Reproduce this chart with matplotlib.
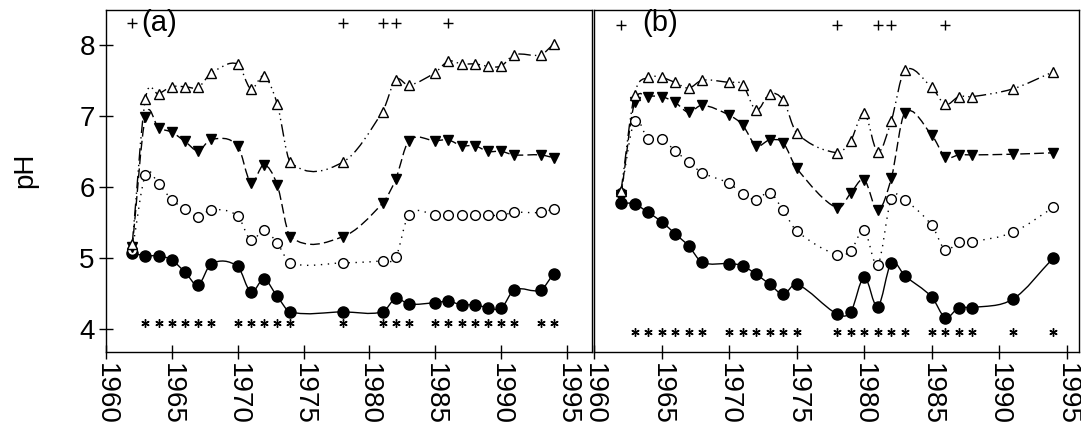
import numpy as np
import matplotlib
matplotlib.use('Agg')
import matplotlib.pyplot as plt
from matplotlib.path import Path
from matplotlib.patches import PathPatch

plt.rcParams['font.family'] = ['Liberation Sans', 'DejaVu Sans']

# panel (a)
years_a = [1962, 1963, 1964, 1965, 1966, 1967, 1968, 1970, 1971, 1972, 1973, 1974,
           1978, 1981, 1982, 1983, 1985, 1986, 1987, 1988, 1989, 1990, 1991, 1993, 1994]
ph_a_filled_circ = [5.07, 5.03, 5.03, 4.97, 4.80, 4.62, 4.92, 4.88, 4.52, 4.70, 4.46, 4.24,
                    4.24, 4.24, 4.43, 4.35, 4.37, 4.39, 4.34, 4.34, 4.30, 4.29, 4.55, 4.55, 4.78]
ph_a_open_circ = [5.11, 6.17, 6.04, 5.82, 5.69, 5.58, 5.68, 5.59, 5.25, 5.39, 5.21, 4.93,
                  4.93, 4.96, 5.01, 5.61, 5.61, 5.61, 5.61, 5.61, 5.60, 5.60, 5.64, 5.64, 5.69]
ph_a_filled_tri = [5.15, 6.99, 6.83, 6.77, 6.64, 6.51, 6.67, 6.58, 6.06, 6.31, 6.03, 5.30,
                   5.30, 5.77, 6.11, 6.65, 6.65, 6.66, 6.58, 6.58, 6.50, 6.50, 6.45, 6.45, 6.41]
ph_a_open_tri = [5.20, 7.24, 7.31, 7.41, 7.41, 7.40, 7.60, 7.73, 7.38, 7.56, 7.17, 6.35,
                 6.35, 7.06, 7.51, 7.43, 7.61, 7.77, 7.73, 7.73, 7.70, 7.70, 7.86, 7.86, 8.01]
stars_a = [1963, 1964, 1965, 1966, 1967, 1968, 1970, 1971, 1972, 1973, 1974, 1978,
           1981, 1982, 1983, 1985, 1986, 1987, 1988, 1989, 1990, 1991, 1993, 1994]
plus_a = [1962, 1978, 1981, 1982, 1986]

# panel (b)
years_b = [1962, 1963, 1964, 1965, 1966, 1967, 1968, 1970, 1971, 1972, 1973, 1974, 1975,
           1978, 1979, 1980, 1981, 1982, 1983, 1985, 1986, 1987, 1988, 1991, 1994]
ph_b_filled_circ = [5.77, 5.76, 5.64, 5.51, 5.34, 5.17, 4.94, 4.92, 4.89, 4.77, 4.63, 4.49, 4.63,
                    4.21, 4.24, 4.73, 4.31, 4.93, 4.75, 4.45, 4.16, 4.30, 4.30, 4.42, 5.00]
ph_b_open_circ = [5.92, 6.93, 6.67, 6.67, 6.51, 6.35, 6.20, 6.05, 5.90, 5.82, 5.92, 5.67, 5.38,
                  5.04, 5.10, 5.39, 4.90, 5.83, 5.81, 5.46, 5.11, 5.23, 5.23, 5.36, 5.71]
ph_b_filled_tri = [5.88, 7.19, 7.27, 7.27, 7.19, 7.05, 7.15, 7.01, 6.87, 6.58, 6.66, 6.62, 6.26,
                   5.70, 5.91, 6.10, 5.67, 6.12, 7.04, 6.73, 6.42, 6.45, 6.45, 6.46, 6.48]
ph_b_open_tri = [5.94, 7.30, 7.54, 7.54, 7.47, 7.39, 7.50, 7.47, 7.44, 7.08, 7.31, 7.22, 6.76,
                 6.48, 6.65, 7.04, 6.49, 6.93, 7.64, 7.40, 7.16, 7.27, 7.27, 7.38, 7.62]
stars_b = [1963, 1964, 1965, 1966, 1967, 1968, 1970, 1971, 1972, 1973, 1974, 1975,
           1978, 1979, 1980, 1981, 1982, 1983, 1985, 1986, 1987, 1988, 1991, 1994]
plus_b = [1962, 1978, 1981, 1982, 1986]

x_ticks = [1960, 1965, 1970, 1975, 1980, 1985, 1990, 1995]
y_ticks = [4, 5, 6, 7, 8]

FS = 20


def smooth_path(x, y):
    # cubic hermite through the points, drawn as bezier segments
    x = np.asarray(x, float)
    y = np.asarray(y, float)
    m = np.empty(len(x))
    m[1:-1] = (y[2:] - y[:-2]) / (x[2:] - x[:-2])
    m[0] = (y[1] - y[0]) / (x[1] - x[0])
    m[-1] = (y[-1] - y[-2]) / (x[-1] - x[-2])
    verts = [(x[0], y[0])]
    codes = [Path.MOVETO]
    for i in range(len(x) - 1):
        h = x[i + 1] - x[i]
        verts += [(x[i] + h / 3, y[i] + m[i] * h / 3),
                  (x[i + 1] - h / 3, y[i + 1] - m[i + 1] * h / 3),
                  (x[i + 1], y[i + 1])]
        codes += [Path.CURVE4] * 3
    return Path(verts, codes)


def draw_panel(ax, years, series, stars, plus, star_y, plus_y, label, label_x, xmax):
    styles = [
        ('o', 'black', '-', 8),
        ('o', 'white', (0, (1, 4)), 7),
        ('v', 'black', (0, (7, 3)), 7.5),
        ('^', 'white', (0, (9, 3, 1, 3, 1, 3)), 7.5),
    ]
    for vals, (mk, fc, ls, ms) in zip(series, styles):
        ax.add_patch(PathPatch(smooth_path(years, vals), fill=False, lw=1.0,
                               ls=ls, edgecolor='black', zorder=2))
        ax.plot(years, vals, ls='none', marker=mk, ms=ms, mfc=fc, mec='black',
                mew=1.0, zorder=3)
    ax.plot(stars, [star_y] * len(stars), ls='none', marker=(6, 2, 0), ms=6,
            mew=1.0, color='black')
    ax.plot(plus, [plus_y] * len(plus), ls='none', marker='+', ms=7,
            mew=1.0, color='black')
    ax.text(label_x, 0.962, label, transform=ax.transAxes, fontsize=FS + 1,
            ha='center', va='center')
    ax.set_xlim(1960, xmax)
    ax.set_ylim(3.676, 8.49)
    ax.set_xticks(x_ticks)
    ax.set_xticklabels([str(t) for t in x_ticks], rotation=-90, fontsize=FS)
    ax.tick_params(axis='both', direction='inout', length=10, width=1.0,
                   labelsize=FS, pad=3)
    for sp in ax.spines.values():
        sp.set_linewidth(1.0)


fig = plt.figure(figsize=(10.81, 4.36), dpi=100)
ax_a = fig.add_axes([0.098, 0.1927, 0.4496, 0.7844])
ax_b = fig.add_axes([0.5495, 0.1927, 0.4487, 0.7844])

draw_panel(ax_a, years_a,
           [ph_a_filled_circ, ph_a_open_circ, ph_a_filled_tri, ph_a_open_tri],
           stars_a, plus_a, 4.08, 8.31, '(a)', 0.11, 1996.9)
draw_panel(ax_b, years_b,
           [ph_b_filled_circ, ph_b_open_circ, ph_b_filled_tri, ph_b_open_tri],
           stars_b, plus_b, 3.96, 8.28, '(b)', 0.136, 1995.9)

ax_a.set_yticks(y_ticks)
ax_a.set_ylabel('pH', fontsize=FS)
ax_a.yaxis.set_label_coords(-0.14, 0.53)
ax_b.set_yticks([])

fig.savefig('out.png', dpi=100)
